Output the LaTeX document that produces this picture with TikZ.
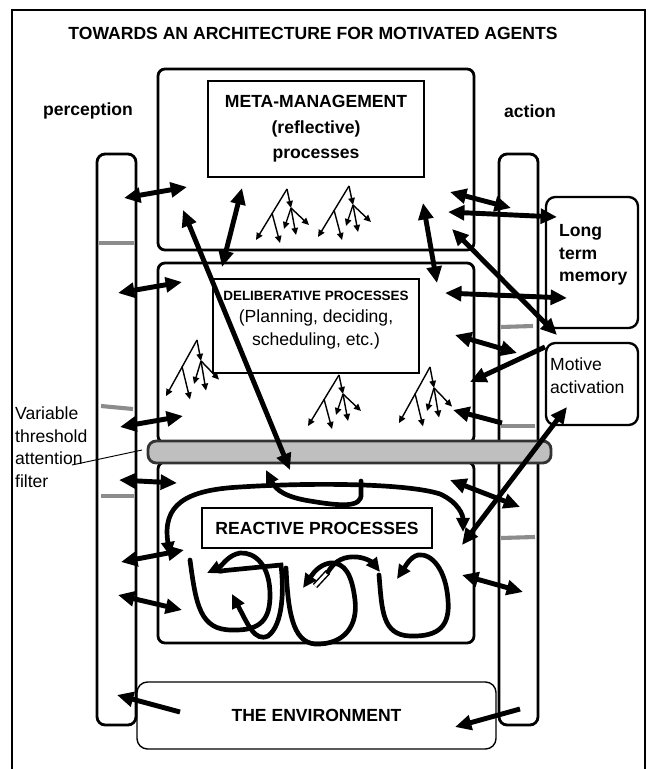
\documentclass[tikz,border=0pt]{standalone}
\usepackage{fontspec}
\setmainfont{Liberation Sans}
\usetikzlibrary{arrows.meta}
\tikzset{
  layerbox/.style={draw, line width=2.4pt, rounded corners=6pt},
  innerbox/.style={draw, line width=1.2pt},
  sidebox/.style={draw, line width=2pt, rounded corners=8pt},
  envbox/.style={draw, line width=1.2pt, rounded corners=9pt},
  column/.style={draw, line width=2.4pt, rounded corners=7pt},
  filterbar/.style={draw=black!80, fill=black!25, line width=2.4pt, rounded corners=7pt},
  graytick/.style={draw=black!45, line width=3.5pt},
  bigarrow/.style={line width=4.2pt, {Triangle[length=14pt,width=12.5pt]}-{Triangle[length=14pt,width=12.5pt]}},
  onearrow/.style={line width=4.2pt, -{Triangle[length=14pt,width=12.5pt]}},
  treearrow/.style={line width=1.2pt, -{Triangle[length=6pt,width=5.5pt]}},
  loopline/.style={line width=4pt, line cap=round},
  loopend/.style={-{Triangle[length=12pt,width=11pt]}},
  bigfont/.style={font=\fontsize{15}{19.2}\selectfont},
  boldfont/.style={font=\fontsize{15}{19.2}\selectfont\bfseries},
  arrowtree/.pic={
    \draw[treearrow] (0,0) -- (-31,51);
    \draw[treearrow] (-15,24) -- (-7,54);
    \draw[treearrow] (0,0) -- (4,19);
    \draw[treearrow] (4,19) -- (-3,40);
    \draw[treearrow] (4,19) -- (9,46);
    \draw[treearrow] (4,19) -- (22,36);
  }
}

\begin{document}
\begin{tikzpicture}[x=0.03cm, y=-0.03cm]
\useasboundingbox (0,0) rectangle (648,769);
\draw[line width=1pt] (12,775) -- (12,10) -- (645,10) -- (645,775);

% headings
\node[boldfont] (title) at (313,33) {TOWARDS AN ARCHITECTURE FOR MOTIVATED AGENTS};
\node[boldfont] (perception) at (88,111) {perception};
\node[boldfont] (action) at (530,111) {action};

% perception and action columns
\node[column, minimum width=1.17cm, minimum height=17.13cm] (percol) at (116.5,439.5) {};
\node[column, minimum width=1.17cm, minimum height=17.13cm] (actcol) at (518.5,439.5) {};
\draw[graytick] (99,243) -- (134,243);
\draw[graytick] (101,406) -- (133,409);
\draw[graytick] (101,496) -- (134,496);
\draw[graytick] (501,327) -- (533,326);
\draw[graytick] (501,426) -- (535,426);
\draw[graytick] (501,538) -- (535,537);

% the three layers
\node[layerbox, minimum width=9.48cm, minimum height=5.43cm] (meta) at (316,159.5) {};
\node[innerbox, minimum width=6.48cm, minimum height=2.88cm, align=center,
      font=\fontsize{15}{21.7}\selectfont\bfseries] (metatext) at (316,129) {META-MANAGEMENT\\(reflective)\\processes};
\node[layerbox, minimum width=9.48cm, minimum height=5.4cm] (delib) at (316,353) {};
\node[innerbox, minimum width=6.18cm, minimum height=2.82cm] (delibbox) at (316,326) {};
\node[bigfont, align=center] (delibtext) at (316,320)
  {{\fontsize{11.5}{13}\selectfont\bfseries DELIBERATIVE PROCESSES}\\(Planning, deciding,\\scheduling, etc.)};
\node[layerbox, minimum width=9.48cm, minimum height=5.43cm] (react) at (316,552.5) {};
\node[innerbox, boldfont, minimum width=6.9cm, minimum height=1.2cm] (reacttext) at (317,528) {REACTIVE PROCESSES};

% attention filter
\node[filterbar, minimum width=12.09cm, minimum height=0.66cm] (filter) at (349.5,452) {};
\node[bigfont, anchor=west, align=left] (filterlabel) at (11,447) {Variable\\threshold\\attention\\filter};
\coordinate (filtertail) at (72,465);
\coordinate (filterpt) at (142,450);
\draw[line width=0.8pt] (filtertail) -- (filterpt);

% side boxes
\node[sidebox, minimum width=2.76cm, minimum height=3.93cm] (ltm) at (592,262.5) {};
\node[boldfont, anchor=west, align=left] (ltmtext) at (555,255) {Long\\term\\memory};
\node[sidebox, minimum width=2.76cm, minimum height=2.46cm] (motive) at (592,384) {};
\node[bigfont, anchor=west, align=left] (motivetext) at (546,375.5) {Motive\\activation};
\node[envbox, boldfont, minimum width=10.77cm, minimum height=2.01cm] (env) at (316.5,715.5) {THE ENVIRONMENT};

% trees of processes
\pic at (287,189) {arrowtree};
\pic at (349,186) {arrowtree};
\pic[yscale=1.1] at (197,340) {arrowtree};
\pic at (339,375) {arrowtree};
\pic[yscale=1.1] at (430,367) {arrowtree};

% reactive loops
\draw[loopline, {Triangle[length=12pt,width=11pt]}-{Triangle[length=12pt,width=11pt]}] (170,556) .. controls (162,505) and (185,490) .. (240,487) .. controls (320,482) and (410,484) .. (440,494) .. controls (458,502) and (463,515) .. (463,532);
\draw[loopline, loopend] (361,481) -- (361,494) .. controls (362,508) and (340,506) .. (310,501) .. controls (285,497) and (276,490) .. (266,470);
\draw[loopline, loopend] (190,560) .. controls (196,605) and (200,630) .. (232,630) .. controls (262,631) and (270,618) .. (270,595) .. controls (270,565) and (255,552) .. (240,553) .. controls (228,555) and (222,566) .. (207,573);
\draw[loopline, loopend] (220,571) -- (281,565) .. controls (284,590) and (283,625) .. (268,636) .. controls (255,642) and (248,625) .. (232,594);
\draw[loopline, loopend] (286,568) .. controls (288,610) and (292,642) .. (315,644) .. controls (345,645) and (358,625) .. (355,600) .. controls (352,575) and (345,562) .. (330,563) .. controls (318,565) and (312,575) .. (303,588);
\draw[line width=1.3pt, double distance=2.5pt] (315,586) -- (328,572);
\draw[loopline, loopend] (328,572) .. controls (335,560) and (345,556) .. (357,557) .. controls (367,558) and (373,563) .. (380,572);
\draw[loopline, loopend] (379,575) .. controls (382,610) and (382,635) .. (410,636) .. controls (440,637) and (450,625) .. (448,600) .. controls (446,570) and (432,553) .. (418,555) .. controls (410,557) and (405,567) .. (397,579);

% arrow end points
\coordinate (pa1) at (124,198);  \coordinate (pa2) at (187,187);
\coordinate (pb1) at (118,293);  \coordinate (pb2) at (182,282);
\coordinate (pc1) at (120,427);  \coordinate (pc2) at (183,416);
\coordinate (pd1) at (119,480);  \coordinate (pd2) at (177,483);
\coordinate (pe1) at (121,562);  \coordinate (pe2) at (184,550);
\coordinate (pf1) at (118,595);  \coordinate (pf2) at (182,610);
\coordinate (pg1) at (180,712);  \coordinate (pg2) at (117,695);
\coordinate (aa1) at (450,192);  \coordinate (aa2) at (511,208);
\coordinate (ab1) at (448,212);  \coordinate (ab2) at (557,217);
\coordinate (ac1) at (452,229);  \coordinate (ac2) at (557,335);
\coordinate (ad1) at (445,293);  \coordinate (ad2) at (567,298);
\coordinate (ae1) at (455,335);  \coordinate (ae2) at (517,353);
\coordinate (af1) at (545,347);  \coordinate (af2) at (470,382);
\coordinate (ag1) at (502,423);  \coordinate (ag2) at (453,410);
\coordinate (ah1) at (450,480);  \coordinate (ah2) at (520,507);
\coordinate (ai1) at (462,545);  \coordinate (ai2) at (567,407);
\coordinate (aj1) at (462,575);  \coordinate (aj2) at (523,592);
\coordinate (ak1) at (520,709);  \coordinate (ak2) at (455,727);
\coordinate (la1) at (183,210);  \coordinate (la2) at (290,470);
\coordinate (lb1) at (242,188);  \coordinate (lb2) at (222,267);
\coordinate (lc1) at (423,203);  \coordinate (lc2) at (437,283);

% perception side
\draw[bigarrow] (pa1) -- (pa2);
\draw[bigarrow] (pb1) -- (pb2);
\draw[bigarrow] (pc1) -- (pc2);
\draw[bigarrow] (pd1) -- (pd2);
\draw[bigarrow] (pe1) -- (pe2);
\draw[bigarrow] (pf1) -- (pf2);
\draw[onearrow] (pg1) -- (pg2);
% action side
\draw[bigarrow] (aa1) -- (aa2);
\draw[bigarrow] (ab1) -- (ab2);
\draw[bigarrow] (ac1) -- (ac2);
\draw[bigarrow] (ad1) -- (ad2);
\draw[bigarrow] (ae1) -- (ae2);
\draw[onearrow] (af1) -- (af2);
\draw[onearrow] (ag1) -- (ag2);
\draw[bigarrow] (ah1) -- (ah2);
\draw[bigarrow] (ai1) -- (ai2);
\draw[bigarrow] (aj1) -- (aj2);
\draw[onearrow] (ak1) -- (ak2);
% between layers
\draw[bigarrow] (la1) -- (la2);
\draw[bigarrow] (lb1) -- (lb2);
\draw[bigarrow] (lc1) -- (lc2);
\end{tikzpicture}
\end{document}
